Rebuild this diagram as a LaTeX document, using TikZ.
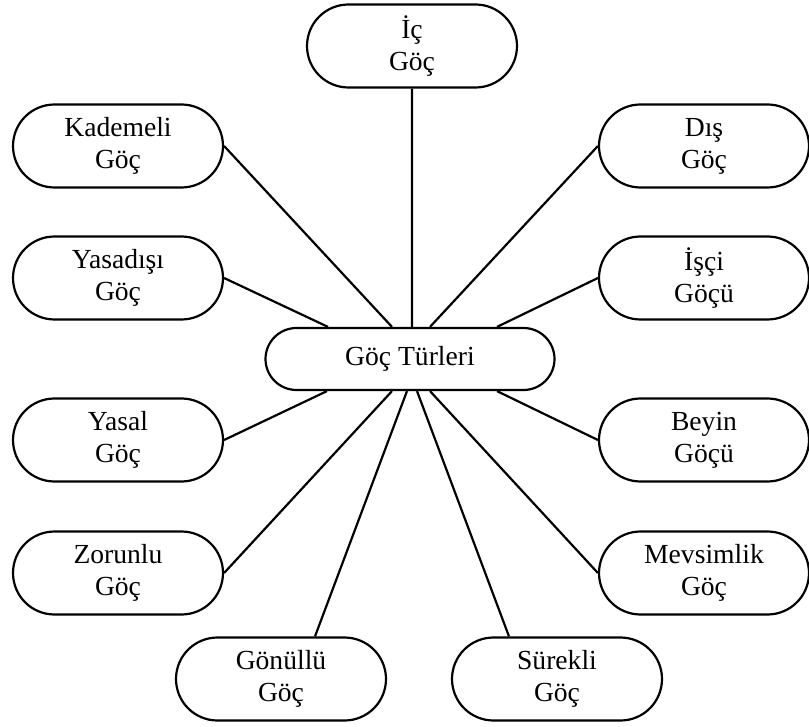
\documentclass[tikz,border=0pt]{standalone}
\usepackage{fontspec}
\setmainfont{Liberation Serif}
\usepackage{tikz}
\usetikzlibrary{shapes.misc}

\begin{document}
\begin{tikzpicture}[x=20pt, y=-20pt, line width=1.1pt,
    tur/.style={draw, rounded rectangle, align=center, inner sep=0pt,
        minimum width=105pt, minimum height=41.5pt,
        font=\fontsize{13.8}{16}\selectfont},
    merkez/.style={tur, minimum width=144.5pt, minimum height=31pt}]
\useasboundingbox (0,0) rectangle (20.225,18.175);
\begin{scope}
    \node[merkez] (gt) at (10.25,8.975) {Göç Türleri};

    \node[tur] (ic) at (10.3,1.15) {İç\\Göç};
    \node[tur] (kad) at (2.95,3.65) {Kademeli\\Göç};
    \node[tur] (yasd) at (2.95,6.95) {Yasadışı\\Göç};
    \node[tur] (yasal) at (2.95,11.0) {Yasal\\Göç};
    \node[tur] (zor) at (2.95,14.325) {Zorunlu\\Göç};

    \node[tur] (dis) at (17.6,3.65) {Dış\\Göç};
    \node[tur] (isci) at (17.6,6.95) {İşçi\\Göçü};
    \node[tur] (bey) at (17.6,11.0) {Beyin\\Göçü};
    \node[tur] (mev) at (17.6,14.325) {Mevsimlik\\Göç};

    \node[tur] (gon) at (7.025,16.975) {Gönüllü\\Göç};
    \node[tur] (sur) at (13.925,16.975) {Sürekli\\Göç};

    \path [-] (ic) edge (ic |- gt.north);
    \path [-] (kad.east) edge ([xshift=-9pt]gt.north);
    \path [-] (yasd.east) edge ([xshift=-41pt]gt.north);
    \path [-] (dis.west) edge ([xshift=10pt]gt.north);
    \path [-] (isci.west) edge ([xshift=43.5pt]gt.north);

    \path [-] (yasal.east) edge ([xshift=-41.5pt]gt.south);
    \path [-] (zor.east) edge ([xshift=-9pt]gt.south);
    \path [-] ([xshift=17pt]gon.north) edge ([xshift=-1.5pt]gt.south);
    \path [-] ([xshift=-24pt]sur.north) edge ([xshift=3.5pt]gt.south);
    \path [-] (mev.west) edge ([xshift=10pt]gt.south);
    \path [-] (bey.west) edge ([xshift=43.5pt]gt.south);
\end{scope}
\end{tikzpicture}
\end{document}
